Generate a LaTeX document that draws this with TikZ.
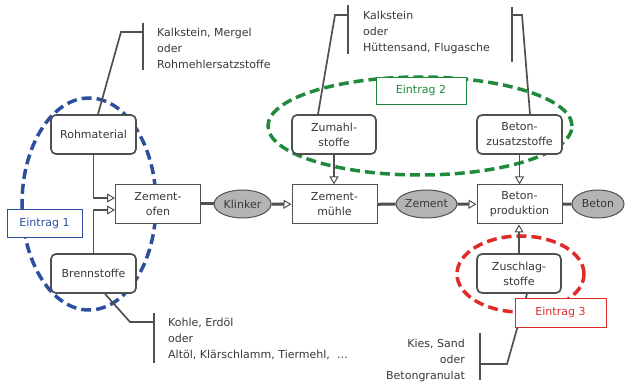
\documentclass[tikz,border=0pt]{standalone}
\usepackage{fontspec}
\setmainfont{DejaVu Sans}
\usetikzlibrary{arrows.meta,shapes.geometric}

\definecolor{boxgray}{HTML}{505050}
\definecolor{txtgray}{HTML}{383838}
\definecolor{prodgray}{HTML}{B4B4B4}
\definecolor{ebblue}{HTML}{2B4F9E}
\definecolor{ebgreen}{HTML}{1F8A3B}
\definecolor{ebred}{HTML}{E02B2B}

\begin{document}
\begin{tikzpicture}[x=1pt,y=-1pt,
  font=\fontsize{11}{15}\selectfont, text=txtgray,
  stoff/.style={draw=boxgray, line width=1.7pt, rounded corners=5pt, fill=white, minimum width=85pt, minimum height=39pt, align=center, inner sep=0pt},
  anlage/.style={draw=boxgray, line width=1pt, fill=white, minimum width=85pt, minimum height=39pt, align=center, inner sep=0pt},
  produkt/.style={draw=boxgray, line width=1pt, ellipse, fill=prodgray, minimum width=57pt, minimum height=28pt, inner sep=0pt},
  eintrag/.style={draw=#1, text=#1, line width=0.8pt, fill=white, minimum height=28pt, inner sep=0pt},
  kreis/.style={draw=#1, line width=3.5pt, dash pattern=on 10pt off 5pt},
  fluss/.style={draw=boxgray, line width=3pt},
  zu/.style={draw=boxgray, line width=1.7pt},
  info/.style={align=left, font=\fontsize{11}{16}\selectfont, inner sep=0pt},
  >={Triangle[open,length=8pt,width=9pt,line width=1pt]}]
\useasboundingbox (0,0) rectangle (625,385);

% Eintraege (hinten)
\draw[kreis=ebblue] (89,204) ellipse [x radius=67pt, y radius=106pt];
\draw[kreis=ebgreen] (420,126) ellipse [x radius=152pt, y radius=49pt];
\draw[kreis=ebred] (520.5,274) ellipse [x radius=63.5pt, y radius=38pt];

% Stoffe und Anlagen
\node[stoff] at (93.5,134.5) (rohm) {Rohmaterial};
\node[stoff] at (93.5,273.5) (brenn) {Brennstoffe};
\node[anlage] at (158,204) (ofen) {Zement-\\ofen};
\node[produkt] at (242.5,204) (klinker) {Klinker};
\node[anlage] at (334.5,204.5) (muehle) {Zement-\\mühle};
\node[produkt] at (426.5,204) (zement) {Zement};
\node[anlage] at (519.5,204.5) (prod) {Beton-\\produktion};
\node[produkt, minimum width=52pt] at (598,204) (beton) {Beton};
\node[stoff, minimum width=84pt] at (334,134.5) (zumahl) {Zumahl-\\stoffe};
\node[stoff] at (519.5,134.5) (zusatz) {Beton-\\zusatzstoffe};
\node[stoff, minimum width=84pt] at (519,273.5) (zuschlag) {Zuschlag-\\stoffe};

% Stofffluss
\draw[zu,->] (rohm.south) |- ([yshift=6pt]ofen.west);
\draw[zu,->] (brenn.north) |- ([yshift=-6pt]ofen.west);
\draw[fluss] (ofen) -- (klinker);
\draw[fluss,->] (klinker) -- (muehle);
\draw[fluss] (muehle) -- (zement);
\draw[fluss,->] (zement) -- (prod);
\draw[fluss] (prod) -- (beton);
\draw[zu,->] (zumahl.south) -- (zumahl.south |- muehle.north);
\draw[zu,->] (zusatz.south) -- (zusatz.south |- prod.north);
\draw[zu,->] (zuschlag.north) -- (zuschlag.north |- prod.south);

% Hinweise
\coordinate (k1) at (121,32);
\coordinate (b1o) at (143,23);
\coordinate (b1u) at (143,70);
\draw[zu] ([xshift=4.5pt]rohm.north) -- (k1) -- (k1 -| b1o);
\draw[zu] (b1o) -- (b1u);
\node[info, anchor=west] at (157,48) (t1) {Kalkstein, Mergel\\oder\\Rohmehlersatzstoffe};

\coordinate (k2) at (335,15);
\coordinate (b2o) at (348,5);
\coordinate (b2u) at (348,54);
\draw[zu] ([xshift=-16pt]zumahl.north) -- (k2) -- (k2 -| b2o);
\draw[zu] (b2o) -- (b2u);
\node[info, anchor=west] at (363,32) (t2) {Kalkstein\\oder\\Hüttensand, Flugasche};

\coordinate (k3) at (522,15);
\coordinate (b3o) at (512,7);
\coordinate (b3u) at (512,62);
\draw[zu] ([xshift=10.5pt]zusatz.north) -- (k3) -- (k3 -| b3o);
\draw[zu] (b3o) -- (b3u);

\coordinate (k4) at (130,322);
\coordinate (b4o) at (154,313);
\coordinate (b4u) at (154,363);
\draw[zu] ([xshift=11.5pt]brenn.south) -- (k4) -- (k4 -| b4o);
\draw[zu] (b4o) -- (b4u);
\node[info, anchor=west] at (168,339) (t4) {Kohle, Erdöl\\oder\\Altöl, Klärschlamm, Tiermehl,\ \ \dots};

\coordinate (k5) at (507,364);
\coordinate (b5o) at (480,333);
\coordinate (b5u) at (480,380);
\draw[zu] ([xshift=8pt]zuschlag.south) -- (k5) -- (k5 -| b5o);
\draw[zu] (b5o) -- (b5u);
\node[info, align=right, anchor=east] at (465,360) (t5) {Kies, Sand\\oder\\Betongranulat};

% Eintrag-Marken
\node[eintrag=ebblue, minimum width=75pt] at (44.5,223) (e1) {Eintrag 1};
\node[eintrag=ebgreen, minimum width=90pt, minimum height=27pt] at (421,90.5) (e2) {Eintrag 2};
\node[eintrag=ebred, minimum width=91pt, minimum height=29pt] at (560.5,312.5) (e3) {Eintrag 3};
\end{tikzpicture}
\end{document}
